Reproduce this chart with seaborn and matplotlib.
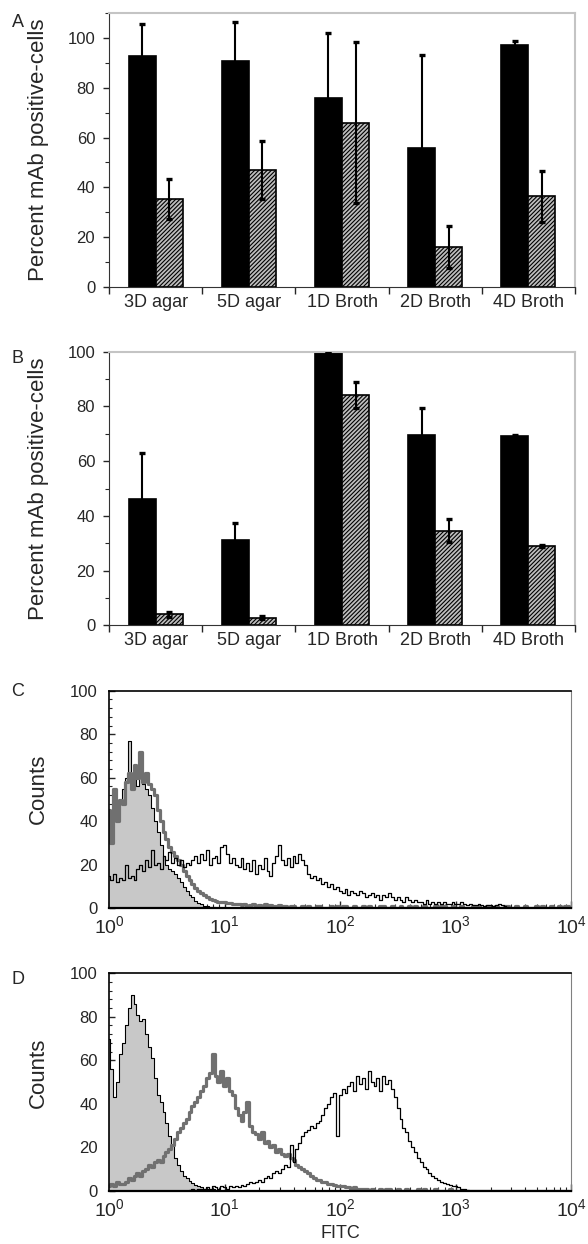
import numpy as np
import pandas as pd
import matplotlib
matplotlib.use("Agg")
import matplotlib.pyplot as plt
import seaborn as sns
from matplotlib.ticker import MultipleLocator, FixedLocator, LogLocator, NullFormatter

# --- bar panels A and B ---
conditions = ['3D agar', '5D agar', '1D Broth', '2D Broth', '4D Broth']
stains = ['solid', 'hatched']

a_black = [93, 91, 76, 56, 97.2]
a_black_err = [12.5, 15.5, 26, 37.4, 1.7]
a_hatch = [35.2, 47, 66, 16.1, 36.4]
a_hatch_err = [8, 11.7, 32.5, 8.4, 10.2]

b_black = [46.2, 31.3, 100, 69.5, 69.2]
b_black_err = [16.9, 6.2, 0, 9.8, 0.4]
b_hatch = [4.1, 2.8, 84.2, 34.6, 29.1]
b_hatch_err = [0.9, 0.5, 4.6, 4.2, 0.4]

# --- flow histograms C and D, counts per channel (0.025 decade channels) ---
n_channels = 160
c_ctrl = [44, 38, 47, 42, 50, 55, 60, 77, 58, 63, 56, 70, 57, 55, 52, 46, 40, 35, 29, 24,
          20, 18, 17, 16, 14, 12, 10, 8, 6, 5, 3.5, 2.5, 2, 1.3, 1, 0.6, 0.4]
c_gray = [45, 30, 55, 40, 50, 48, 58, 62, 55, 66, 60, 72, 58, 62, 57, 55, 52, 45, 40, 35,
          32, 28, 26, 24, 22, 20, 17, 15, 13, 11, 9.5, 8, 7, 6, 5, 4.5, 4, 3.5, 3, 3,
          3, 2.5, 2.5, 2, 2, 2, 1.5, 2, 1, 1.5, 2, 1, 1.5, 1, 2, 1, 1.5, 1, 1, 1.5,
          1, 1, 0, 1, 1, 0, 0, 1, 0, 1, 0, 0, 1, 1, 0, 0, 0, 1, 0, 1,
          0, 1, 1, 0, 0, 1, 0, 0, 1, 0, 1, 0, 0, 0, 1, 1, 0, 0, 1, 0,
          0, 1, 0, 0, 1, 0, 1, 0, 0, 1, 0, 0, 0, 1, 0, 1, 1, 0, 0, 1,
          0, 0, 1, 0, 0, 0, 1, 0, 1, 0, 0, 1, 0, 0, 1, 0, 0, 1, 1, 0,
          0, 1, 0, 0, 1, 0, 0, 0, 1, 0, 1, 0, 0, 1, 0, 0, 1, 0, 1, 1]
c_black = [15, 13, 16, 12, 14, 13, 20, 14, 15, 13, 18, 20, 17, 22, 19, 27, 20, 21, 18, 24,
           22, 26, 21, 23, 20, 22, 19, 21, 20, 22, 24, 21, 25, 22, 27, 20, 23, 24, 21, 28,
           29, 25, 21, 23, 20, 19, 23, 18, 21, 17, 22, 16, 20, 18, 23, 17, 15, 21, 24, 29,
           22, 20, 23, 19, 24, 21, 25, 22, 20, 16, 14, 15, 13, 14, 11, 12, 10, 11, 9, 10,
           8, 7, 9, 6, 8, 7, 6, 8, 7, 5, 6, 7, 5, 6, 4, 6, 5, 7, 5, 4,
           5, 4, 3, 5, 4, 3, 4, 3, 3, 2, 4, 2, 3, 2, 3, 2, 3, 2, 2, 3,
           2, 2, 3, 2, 1.5, 2, 1.5, 1.5, 2, 1.5, 1, 1.5, 1.5, 1, 1.5, 2, 1.5, 1, 0.5]

d_ctrl = [70, 56, 43, 50, 63, 68, 76, 84, 90, 86, 81, 78, 79, 72, 66, 61, 52, 44, 41, 36,
          31, 25, 21, 15, 12, 9, 7, 6, 4.5, 3.5, 2.5, 2, 1.5, 1, 1, 0.5, 1, 0.5, 0.5, 0, 0.5]
d_gray = [2, 3, 2, 4, 3, 3, 4, 6, 5, 7, 8, 7, 9, 10, 12, 11, 13, 14, 13, 16,
          18, 19, 21, 24, 27, 29, 31, 33, 36, 39, 41, 43, 46, 48, 52, 54, 63, 53, 50, 55,
          48, 52, 46, 44, 38, 35, 32, 36, 41, 30, 27, 26, 24, 27, 22, 23, 20, 21, 18, 19,
          17, 16, 17, 15, 14, 12, 11, 10, 9, 8, 7, 6, 5, 5, 4, 4, 3, 3, 2.5, 2,
          2, 2, 1.5, 1.5, 1, 1.5, 1, 1, 1, 1, 0, 1, 0, 0, 1, 0, 1, 1, 0, 0,
          1, 0, 0, 1, 0, 0, 0, 1, 0, 1, 0, 0, 0, 1, 0, 0, 0, 0, 1, 0, 0]
d_black = [0, 0, 0, 0, 0, 0, 0, 0, 0, 0, 0, 0, 0, 0, 0, 0, 0, 0, 0, 0,
           0, 0, 0, 0, 0, 0, 0, 0, 0.5, 1, 0.5, 1, 1, 1, 1.5, 1, 2, 1.5, 1, 2,
           1.5, 1, 2, 1.5, 2, 1.5, 2.5, 2, 3, 4, 3.5, 4, 5, 4, 6, 7, 6, 8, 9, 8,
           10, 12, 11, 21, 13, 19, 22, 25, 27, 28, 30, 29, 31, 32, 35, 38, 40, 43, 45, 25,
           44, 47, 45, 48, 50, 46, 53, 49, 52, 47, 55, 50, 48, 52, 46, 53, 49, 51, 47, 43,
           38, 33, 29, 27, 23, 20, 18, 15, 13, 11, 10, 8, 7, 6, 5, 4, 3.5, 3, 2.5, 2,
           2, 1.5, 1, 1, 0.5]

decade_labels = ['$10^{0}$', '$10^{1}$', '$10^{2}$', '$10^{3}$', '$10^{4}$']

sns.set_style("ticks")
plt.rcParams['font.family'] = ['Liberation Sans', 'DejaVu Sans']
plt.rcParams['mathtext.default'] = 'regular'
plt.rcParams['hatch.linewidth'] = 0.8

fig = plt.figure(figsize=(5.88, 12.44), dpi=100)


def bar_panel(ax, black, black_err, hatch, hatch_err, ymax):
    df = pd.DataFrame({'Condition': conditions * 2,
                       'Percent': black + hatch,
                       'Stain': [stains[0]] * 5 + [stains[1]] * 5})
    sns.barplot(data=df, x='Condition', y='Percent', hue='Stain',
                palette=['black', '#bdbdbd'], saturation=1, width=0.58, gap=0,
                edgecolor='black', linewidth=1.2, errorbar=None, legend=False, ax=ax)
    for cont, errs in zip(ax.containers, [black_err, hatch_err]):
        xs = [p.get_x() + p.get_width() / 2 for p in cont]
        ys = [p.get_height() for p in cont]
        ax.errorbar(xs, ys, yerr=errs, fmt='none', ecolor='black',
                    elinewidth=1.5, capsize=2.5, capthick=2.4, zorder=5)
    for p in ax.containers[1]:
        p.set_hatch('////////')
    ax.set_xlim(-0.5, 4.5)
    ax.set_ylim(0, ymax)
    ax.yaxis.set_major_locator(MultipleLocator(20))
    ax.yaxis.set_minor_locator(MultipleLocator(10))
    ax.xaxis.set_minor_locator(FixedLocator(np.arange(-0.5, 5, 1)))
    ax.tick_params(axis='x', which='major', length=0, labelsize=13, pad=5)
    ax.tick_params(axis='x', which='minor', length=5, width=1, direction='out')
    ax.tick_params(axis='y', which='major', length=4, width=1, labelsize=12, pad=6)
    ax.tick_params(axis='y', which='minor', length=3, width=0.8)
    ax.set_xlabel('')
    ax.set_ylabel('Percent mAb positive-cells', fontsize=16)
    ax.yaxis.set_label_coords(-0.128, 0.5)
    for s in ['top', 'right']:
        ax.spines[s].set_visible(True)
        ax.spines[s].set_color('#c4c4c4')
        ax.spines[s].set_linewidth(1.5)
    ax.spines['left'].set_color('#333333')
    ax.spines['bottom'].set_color('#333333')


fitc = 10 ** (np.arange(n_channels) / 40)


def padded(vals):
    return np.pad(np.array(vals, dtype=float), (0, n_channels - len(vals)))


def hist_panel(ax, ctrl, gray, black, label_y):
    ax.set_xscale('log')
    ctrl, gray, black = padded(ctrl), padded(gray), padded(black)
    ax.fill_between(fitc, ctrl, step='mid', color='#c8c8c8', lw=0)
    sns.lineplot(x=fitc, y=ctrl, drawstyle='steps-mid', color='black', lw=0.8, ax=ax)
    sns.lineplot(x=fitc, y=gray, drawstyle='steps-mid', color='#707070', lw=2.3, ax=ax)
    sns.lineplot(x=fitc, y=black, drawstyle='steps-mid', color='black', lw=0.9, ax=ax)
    ax.set_xlim(1, 1e4)
    ax.set_ylim(0, 100)
    ax.set_xticks([1, 10, 100, 1000, 10000])
    ax.set_xticklabels(decade_labels)
    ax.xaxis.set_minor_locator(LogLocator(base=10, subs=np.arange(2, 10)))
    ax.xaxis.set_minor_formatter(NullFormatter())
    ax.yaxis.set_major_locator(MultipleLocator(20))
    ax.yaxis.set_minor_locator(MultipleLocator(4))
    ax.tick_params(axis='x', which='major', direction='in', length=5, width=1,
                   labelsize=14, pad=5)
    ax.tick_params(axis='x', which='minor', direction='in', length=3, width=0.8)
    ax.tick_params(axis='y', which='major', direction='in', length=4, width=1,
                   labelsize=12, pad=8)
    ax.tick_params(axis='y', which='minor', direction='in', length=2, width=0.8)
    ax.set_ylabel('Counts', fontsize=16)
    ax.yaxis.set_label_coords(-0.13, label_y)
    for s in ['top', 'left']:
        ax.spines[s].set_visible(True)
        ax.spines[s].set_color('black')
        ax.spines[s].set_linewidth(1.2)
    ax.spines['bottom'].set_linewidth(1.6)
    ax.spines['bottom'].set_color('black')
    ax.spines['right'].set_visible(True)
    ax.spines['right'].set_color('#808080')
    ax.spines['right'].set_linewidth(0.8)


ax_a = fig.add_axes([0.1854, 0.7695, 0.7925, 0.2198])
bar_panel(ax_a, a_black, a_black_err, a_hatch, a_hatch_err, 110)

ax_b = fig.add_axes([0.1854, 0.4973, 0.7925, 0.2200])
bar_panel(ax_b, b_black, b_black_err, b_hatch, b_hatch_err, 100)

ax_c = fig.add_axes([0.1854, 0.2698, 0.7865, 0.1750])
hist_panel(ax_c, c_ctrl, c_gray, c_black, 0.548)
ax_c.set_xlabel('')

ax_d = fig.add_axes([0.1854, 0.0428, 0.7865, 0.1748])
hist_panel(ax_d, d_ctrl, d_gray, d_black, 0.541)
ax_d.set_xlabel('FITC', fontsize=13, labelpad=4)

for letter, y in zip(['A', 'B', 'C', 'D'], [0.982, 0.712, 0.444, 0.213]):
    fig.text(0.030, y, letter, fontsize=13, ha='center', va='center')

fig.savefig('out.png', dpi=100)
